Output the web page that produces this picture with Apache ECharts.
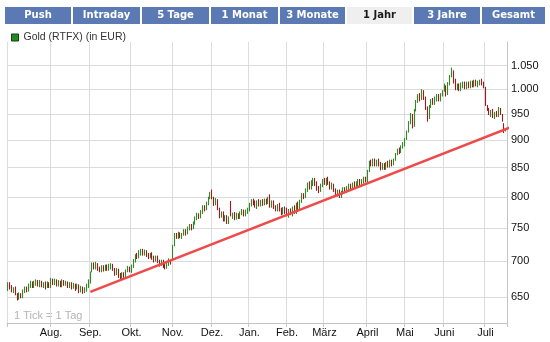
<!DOCTYPE html>
<html>
<head>
<meta charset="utf-8">
<script src="https://cdn.jsdelivr.net/npm/echarts@6/dist/echarts.min.js"></script>
<style>
  html, body { margin: 0; padding: 0; background: #fff; }
  #chart { width: 550px; height: 342px; }
</style>
</head>
<body>
<div id="chart"></div>
<script>
// Month names on the time axis and the number of trading days in each month
const monthLabels = ['Jul.', 'Aug.', 'Sep.', 'Okt.', 'Nov.', 'Dez.', 'Jan.', 'Feb.', 'März', 'April', 'Mai', 'Juni', 'Juli'];
const tradingDays = [23, 21, 22, 22, 21, 20, 20, 20, 23, 20, 21, 22, 12];

// Daily [open, close] in EUR, one small array per month
const jul09 = [[658,670],[670,660],[666,656],[655,663],[664,652],[655,645],[646,656],[655,648],[648,660],[655,664],[664,656],[657,668],[662,672],[671,662],[662,672],[665,674],[673,664],[663,673],[672,663],[662,670],[671,660],[662,671],[670,662]];
const aug09 = [[662,676],[675,666],[666,675],[674,664],[664,673],[672,663],[663,674],[673,665],[665,672],[671,662],[662,670],[670,660],[661,669],[668,658],[660,668],[667,655],[656,665],[664,654],[655,663],[657,668],[662,674]];
const sep09 = [[668,685],[684,698],[698,688],[688,699],[697,686],[692,684],[684,694],[694,685],[686,695],[695,686],[686,696],[688,697],[696,686],[690,679],[680,690],[689,676],[683,673],[674,684],[684,675],[676,688],[684,693],[692,684]];
const okt09 = [[683,695],[690,703],[698,710],[712,703],[704,716],[708,718],[718,708],[708,717],[716,706],[712,703],[704,712],[713,702],[708,698],[699,708],[708,697],[702,692],[693,702],[702,690],[696,688],[689,699],[693,704],[702,695]];
const nov09 = [[700,724],[722,742],[742,733],[733,744],[743,734],[733,742],[738,748],[748,738],[740,752],[746,756],[756,746],[748,760],[755,768],[762,774],[773,764],[765,778],[772,786],[786,776],[778,792],[786,800],[796,808]];
const dez09 = [[812,796],[800,785],[786,798],[796,778],[782,765],[766,776],[776,760],[760,770],[770,756],[756,768],[793,768],[764,774],[775,762],[763,774],[773,764],[764,776],[770,780],[779,768],[768,779],[772,782]];
const jan10 = [[776,790],[784,796],[797,786],[794,782],[780,794],[796,784],[784,795],[796,785],[786,797],[797,787],[788,800],[804,782],[782,794],[794,780],[786,776],[776,788],[790,776],[782,770],[771,783],[784,772]];
const feb10 = [[782,768],[766,780],[781,770],[768,784],[786,772],[772,790],[792,778],[778,795],[790,806],[806,796],[798,814],[808,824],[826,812],[812,828],[818,832],[832,818],[826,810],[818,806],[808,822],[816,830]];
const mar10 = [[832,820],[818,832],[834,820],[826,812],[812,824],[822,808],[814,800],[800,812],[812,798],[798,810],[804,816],[816,806],[806,818],[810,822],[822,812],[812,824],[826,814],[814,826],[818,830],[830,818],[818,830],[822,834],[834,824]];
const apr10 = [[824,846],[842,862],[864,852],[852,866],[866,852],[852,864],[866,852],[860,845],[846,858],[858,846],[846,860],[862,850],[850,864],[864,852],[854,866],[862,876],[872,884],[886,874],[876,890],[884,896]];
const mai10 = [[888,904],[900,918],[914,936],[930,952],[950,922],[925,960],[955,978],[972,990],[992,975],[978,1000],[998,978],[985,958],[965,935],[940,968],[962,980],[982,968],[968,985],[975,990],[990,975],[975,992],[985,998]];
const jun10 = [[995,1012],[1008,985],[988,1015],[1008,1030],[1025,1046],[1040,1012],[1022,998],[998,1012],[1012,996],[996,1014],[1002,1016],[1016,1000],[1000,1016],[1016,1002],[1002,1018],[1018,1004],[1004,1020],[1020,1006],[1004,1018],[1008,1020],[1022,1008],[1016,1002]];
const jul10 = [[1005,966],[968,956],[962,948],[944,958],[960,942],[940,954],[956,944],[944,964],[962,948],[950,935],[932,913],[916,922]];

// Price levels labelled on the right-hand axis
const priceTicks = [650, 700, 750, 800, 850, 900, 950, 1000, 1050];

// Support line: [trading-day index, price]
const trendStart = [44, 656.7];
const trendEnd = [272, 929.1];

const seriesName = 'Gold (RTFX) (in EUR)';
const tabLabels = ['Push', 'Intraday', '5 Tage', '1 Monat', '3 Monate', '1 Jahr', '3 Jahre', 'Gesamt'];
const activeTab = '1 Jahr';

// ---- build category axis and candles ----
const months = [jul09, aug09, sep09, okt09, nov09, dez09, jan10, feb10, mar10, apr10, mai10, jun10, jul10];
const categories = [];
const monthStart = new Set();
monthLabels.forEach((m, mi) => {
  for (let d = 1; d <= tradingDays[mi]; d++) {
    if (d === 1) monthStart.add(categories.length);
    categories.push(m + ' ' + d);
  }
});
const candles = [].concat(...months).map(([o, c]) => [o, c, Math.min(o, c), Math.max(o, c)]);

const fmtDE = v => String(v).replace(/\B(?=(\d{3})+(?!\d))/g, '.');

const UP = '#2f8a22';
const DOWN = '#a3161b';
const GRID = '#dcdcdc';
const AXIS = '#c4c4c4';

// ---- tab bar ----
const tabLeft = [5, 73, 142, 211, 280, 347, 414, 482];
const tabWidth = [66, 67, 67, 67, 65, 65, 66, 63];
const tabs = tabLabels.map((t, i) => {
  const on = t === activeTab;
  return {
    type: 'group', left: tabLeft[i], top: 7,
    children: [
      { type: 'rect', shape: { x: 0, y: 0, width: tabWidth[i], height: 17 },
        style: { fill: on ? '#efefef' : '#5b79b3' } },
      { type: 'text', x: tabWidth[i] / 2, y: 8.5,
        style: { text: t, fill: on ? '#1a1a1a' : '#ffffff', font: 'bold 10px "DejaVu Sans"',
                 align: 'center', verticalAlign: 'middle' } }
    ]
  };
});

const chart = echarts.init(document.getElementById('chart'), null, { renderer: 'canvas' });
chart.setOption({
  animation: false,
  grid: { left: 7, right: 43, top: 42, bottom: 19, containLabel: false },
  legend: {
    left: 6, top: 27, itemWidth: 7, itemHeight: 7, selectedMode: false,
    data: [{ name: seriesName, icon: 'rect',
             itemStyle: { color: '#1f8c1f', borderColor: '#1b3b1b', borderWidth: 1 } }],
    textStyle: { color: '#333', fontSize: 10.5, fontFamily: 'Liberation Sans' }
  },
  xAxis: {
    type: 'category', data: categories, boundaryGap: true,
    axisLine: { show: true, lineStyle: { color: AXIS } },
    axisTick: { show: true, length: 4, interval: i => monthStart.has(i), lineStyle: { color: AXIS } },
    splitLine: { show: true, interval: i => monthStart.has(i), lineStyle: { color: GRID } },
    axisLabel: {
      interval: i => i > 0 && monthStart.has(i),
      formatter: v => v.split(' ')[0],
      color: '#111', fontSize: 11, fontFamily: 'Liberation Sans', margin: 4
    }
  },
  yAxis: {
    type: 'log', logBase: 10, min: 615.6, max: 1103, position: 'right',
    axisLine: { show: true, lineStyle: { color: AXIS } },
    axisTick: { show: false }, axisLabel: { show: false }, splitLine: { show: false }
  },
  graphic: tabs.concat([
    { type: 'text', left: 14, top: 310,
      style: { text: '1 Tick = 1 Tag', fill: '#b4b4b4', font: '11px "Liberation Sans"' } }
  ]),
  series: [
    {
      type: 'candlestick', name: seriesName, data: candles, barWidth: 0.3, barMinWidth: 0.3, z: 2,
      itemStyle: { color: UP, color0: DOWN, borderColor: UP, borderColor0: DOWN, borderWidth: 1.1 },
      markLine: {
        z: 1, silent: true, symbol: ['none', 'none'], animation: false,
        lineStyle: { type: 'solid', color: GRID, width: 1 },
        label: { position: 'end', distance: 4, formatter: p => fmtDE(p.value),
                 color: '#111', fontSize: 11, fontFamily: 'Liberation Sans' },
        emphasis: { disabled: true },
        data: priceTicks.map(v => ({ yAxis: v }))
      }
    },
    {
      type: 'line', name: 'Trend', data: [trendStart, trendEnd], symbol: 'none', clip: false,
      silent: true, z: 4, lineStyle: { color: '#ee4a4a', width: 2.5 }
    }
  ]
});
</script>
</body>
</html>
